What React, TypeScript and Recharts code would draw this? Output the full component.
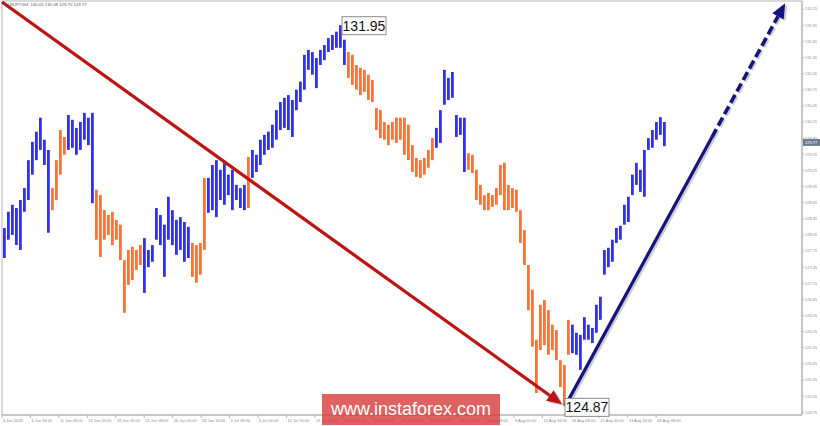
import React from 'react';
import { ComposedChart, Bar, Cell, XAxis, YAxis, ReferenceLine, ReferenceDot, ReferenceArea } from 'recharts';

const BLUE = '#3030f2';
const ORANGE = '#ff7236';
const RED = '#bd1414';
const NAVY = '#14147c';
const FONT = '"Liberation Sans", Arial, sans-serif';

// H4 price bars, one sample every 4 px (high / low)
const highs = [
  128.18, 128.48, 128.61, 128.55, 128.70, 128.92, 129.44, 129.78, 129.97, 130.23,
  129.82, 129.63, 128.92, 129.44, 130.00, 129.87, 130.28, 130.19, 130.04, 130.15,
  130.32, 130.23, 130.32, 128.89, 128.79, 128.51, 128.42, 128.48, 128.33, 128.24,
  127.58, 127.77, 127.83, 127.77, 127.86, 127.99, 127.77, 127.86, 128.55, 128.42,
  128.24, 128.76, 128.51, 128.33, 128.38, 128.29, 128.20, 127.90, 127.86, 127.90,
  129.11, 129.11, 129.35, 129.44, 129.26, 129.39, 129.17, 129.26, 128.98, 128.92,
  128.98, 129.50, 129.63, 129.54, 129.82, 129.91, 129.97, 130.10, 130.37, 130.52,
  130.60, 130.65, 130.56, 130.75, 130.90, 131.40, 131.49, 131.45, 131.34, 131.49,
  131.58, 131.71, 131.77, 131.83, 131.95, 131.68, 131.45, 131.40, 131.21, 131.16,
  131.12, 131.03, 130.93, 130.41, 130.37, 130.15, 130.10, 130.15, 130.23, 130.23,
  130.23, 130.10, 129.72, 129.48, 129.44, 129.48, 129.63, 129.85, 130.04, 130.37,
  131.12, 130.97, 131.08, 130.28, 130.23, 130.23, 129.57, 129.54, 129.26, 128.98,
  128.79, 128.83, 128.79, 128.92, 129.35, 129.39, 128.98, 128.92, 128.89, 128.51,
  128.14, 127.49, 127.03, 126.10, 126.75, 126.84, 126.65, 126.38, 126.28, 125.72,
  125.63, 126.47, 126.38, 126.23, 126.19, 126.52, 126.38, 126.32, 126.75, 126.90,
  127.77, 127.81, 127.96, 128.18, 128.22, 128.61, 128.76, 129.17, 129.39, 129.26,
  129.63, 129.85, 130.00, 130.15, 130.24, 130.15,
];
const lows = [
  127.62, 127.96, 128.05, 127.86, 127.77, 128.48, 128.70, 129.17, 129.44, 129.63,
  129.35, 128.09, 128.51, 128.70, 129.17, 129.54, 129.63, 129.67, 129.54, 129.63,
  129.82, 129.72, 128.64, 127.96, 127.64, 127.96, 128.05, 127.86, 127.96, 127.58,
  126.60, 127.12, 127.21, 127.40, 127.49, 126.97, 127.45, 127.55, 127.96, 127.86,
  127.27, 127.96, 127.86, 127.68, 127.77, 127.55, 127.62, 127.27, 127.16, 127.31,
  127.77, 128.46, 128.51, 128.38, 128.70, 128.61, 128.79, 128.51, 128.70, 128.55,
  128.51, 128.55, 129.11, 129.22, 129.35, 129.54, 129.63, 129.67, 129.82, 130.00,
  130.04, 130.00, 129.87, 130.37, 130.52, 130.75, 131.12, 131.03, 130.78, 131.21,
  131.30, 131.45, 131.49, 131.53, 131.53, 131.21, 130.97, 130.84, 130.75, 130.65,
  130.71, 130.56, 130.52, 130.00, 129.85, 129.82, 129.72, 129.82, 129.76, 129.82,
  129.54, 129.44, 129.22, 129.13, 129.11, 129.17, 129.30, 129.44, 129.67, 129.76,
  130.47, 130.56, 130.60, 129.87, 129.91, 129.22, 129.26, 129.20, 128.70, 128.61,
  128.51, 128.51, 128.57, 128.61, 128.79, 128.51, 128.51, 128.55, 128.48, 127.90,
  127.49, 126.65, 125.97, 125.11, 125.91, 126.00, 125.82, 125.91, 125.72, 125.22,
  124.87, 125.82, 125.85, 125.82, 125.54, 126.10, 126.10, 126.04, 126.23, 126.47,
  127.31, 127.45, 127.55, 127.90, 127.96, 128.24, 128.29, 128.79, 128.98, 128.85,
  128.76, 129.63, 129.67, 129.82, 129.91, 129.70,
];
// B = rising wave (blue), O = falling wave (orange)
const legs =
  'BBBBBBBBBBBB' + 'OOOO' + 'BBBBBBB' + 'OOOOOOOOOOOO' + 'BBBBBBBBBBBB' + 'OOOO' +
  'BBBBBBBBBB' + 'O' + 'BBBBBBBBBBBBBBBBBBBBBBBB' + 'OOOOOOOOOOOOOOOOOOOOOO' +
  'BBBBBBBB' + 'OOOOOOOOOOOOOOOOOOOOOOOOOO' + 'BBBBBBBBBBBBBBBBBBBBBBBB';

const yTicks = [
  132.25, 131.95, 131.65, 131.35, 131.05, 130.75, 130.45, 130.15, 129.85, 129.55,
  129.25, 128.95, 128.65, 128.35, 128.05, 127.75, 127.45, 127.15, 126.85, 126.55,
  126.25, 125.95, 125.65, 125.35, 125.05, 124.75,
];
const dateLabels = [
  '4 Jun 2018', '6 Jun 16:00', '11 Jun 08:00', '14 Jun 00:00', '18 Jun 16:00', '21 Jun 08:00',
  '26 Jun 00:00', '28 Jun 16:00', '3 Jul 08:00', '6 Jul 00:00', '10 Jul 16:00', '13 Jul 08:00',
  '18 Jul 00:00', '20 Jul 16:00', '25 Jul 08:00', '30 Jul 00:00', '1 Aug 16:00', '6 Aug 08:00',
  '9 Aug 00:00', '13 Aug 16:00', '16 Aug 08:00', '21 Aug 00:00', '23 Aug 16:00', '28 Aug 08:00',
];
// a label every 16 H4 bars = 7.11 samples
const dateTicks = dateLabels.map((_, k) => k * 7.11 - 0.5);

const header = 'EURJPY,H4  130.05 130.08 129.70 129.77';
const peak = { i: 84, price: 131.95 };
const trough = { i: 140, price: 124.87 };
const lastClose = 129.77;

const redArrow = [{ x: -0.5, y: 132.38 }, { x: 139.5, y: 124.9 }];
const blueSolid = [{ x: 140.3, y: 124.87 }, { x: 177, y: 129.87 }];
const blueDashed = [{ x: 177, y: 129.87 }, { x: 195.3, y: 132.36 }];

const data = highs.map((h, i) => ({ i, range: [lows[i], h], up: legs[i] === 'B' }));

const arrow = (color: string, dashed: boolean, head: boolean) => (p: any) => {
  const { x1, y1, x2, y2 } = p;
  const len = Math.hypot(x2 - x1, y2 - y1);
  const ux = (x2 - x1) / len;
  const uy = (y2 - y1) / len;
  const hl = head ? 15 : 0;
  const hw = 6.5;
  const bx = x2 - ux * hl;
  const by = y2 - uy * hl;
  const tri = (ox: number, oy: number) =>
    `${x2 + ox},${y2 + oy} ${bx - uy * hw + ox},${by + ux * hw + oy} ${bx + uy * hw + ox},${by - ux * hw + oy}`;
  const dash = dashed ? '9 4' : undefined;
  const w = dashed ? 3.6 : 3.2;
  return (
    <g>
      <line x1={x1 + 2} y1={y1 + 1.5} x2={bx + 2} y2={by + 1.5} stroke="#8d8d9d" strokeOpacity={0.45} strokeWidth={3} strokeDasharray={dash} />
      {head && <polygon points={tri(2, 1.5)} fill="#8d8d9d" fillOpacity={0.45} />}
      <line x1={x1} y1={y1} x2={bx} y2={by} stroke={color} strokeWidth={w} strokeDasharray={dash} />
      {head && <polygon points={tri(0, 0)} fill={color} />}
    </g>
  );
};

const priceBox = (text: string, dx: number, dy: number) => (p: any) => (
  <g>
    <rect x={p.cx + dx} y={p.cy + dy} width={44} height={18} fill="#fff" stroke="#8a8a8a" />
    <text x={p.cx + dx + 22} y={p.cy + dy + 14} textAnchor="middle" fontSize={14} fontFamily={FONT} fill="#111">
      {text}
    </text>
  </g>
);

const closeBox = (p: any) => (
  <g>
    <rect x={p.cx + 1} y={p.cy - 3.5} width={18} height={7} fill="#6b7a8c" />
    <text x={p.cx + 3} y={p.cy + 1.6} fontSize={4} fontFamily={FONT} fill="#fff">
      {lastClose.toFixed(2)}
    </text>
  </g>
);

const YTick = ({ x, y, payload }: any) => (
  <text x={x} y={y + 1.4} fontSize={4} fontFamily={FONT} fill="#8a8a8a">
    {payload.value.toFixed(2)}
  </text>
);

const DateTick = ({ x, index }: any) => (
  <text x={x + 1} y={421.5} fontSize={4} fontFamily={FONT} fill="#8a8a8a">
    {dateLabels[index]}
  </text>
);

export default function App() {
  return (
    <div style={{ position: 'absolute', left: 0, top: 0, width: 820, height: 426, background: '#fff', overflow: 'hidden' }}>
      <ComposedChart width={820} height={426} data={data} margin={{ top: 1, right: 0, bottom: 0, left: 2 }}>
        <XAxis
          dataKey="i"
          type="number"
          domain={[-0.5, 199.5]}
          allowDataOverflow
          ticks={dateTicks}
          interval={0}
          height={11}
          tick={<DateTick />}
          tickSize={3}
          tickMargin={1}
          axisLine={{ stroke: '#b4b4b4' }}
          tickLine={{ stroke: '#b4b4b4' }}
        />
        <YAxis
          orientation="right"
          type="number"
          domain={[124.7, 132.4]}
          allowDataOverflow
          ticks={yTicks}
          interval={0}
          width={18}
          tick={<YTick />}
          tickSize={2}
          tickMargin={1}
          axisLine={{ stroke: '#b4b4b4' }}
          tickLine={{ stroke: '#b4b4b4' }}
        />
        <ReferenceArea x1={-0.5} x2={199.5} y1={124.7} y2={132.4} fill="none" stroke="#b4b4b4" />
        <Bar dataKey="range" barSize={2.8} isAnimationActive={false}>
          {data.map((d) => (
            <Cell key={d.i} fill={d.up ? BLUE : ORANGE} />
          ))}
        </Bar>
        <ReferenceLine segment={redArrow} shape={arrow(RED, false, true)} />
        <ReferenceLine segment={blueSolid} shape={arrow(NAVY, false, false)} />
        <ReferenceLine segment={blueDashed} shape={arrow(NAVY, true, true)} />
        <ReferenceDot x={peak.i} y={peak.price} r={0} shape={priceBox(peak.price.toFixed(2), 2, -8.5)} />
        <ReferenceDot x={trough.i} y={trough.price} r={0} shape={priceBox(trough.price.toFixed(2), 1, -7.5)} />
        <ReferenceDot x={199.5} y={lastClose} r={0} shape={closeBox} />
      </ComposedChart>
      <div style={{ position: 'absolute', left: 5, top: 2, fontSize: 4.3, fontFamily: FONT, color: '#555', whiteSpace: 'pre' }}>
        {header}
      </div>
      <div
        style={{
          position: 'absolute', left: 322, top: 394, width: 178, height: 31,
          background: 'rgba(214, 52, 52, 0.78)', color: '#fff', fontFamily: FONT, fontSize: 18,
          lineHeight: '31px', textAlign: 'center',
        }}
      >
        www.instaforex.com
      </div>
    </div>
  );
}
